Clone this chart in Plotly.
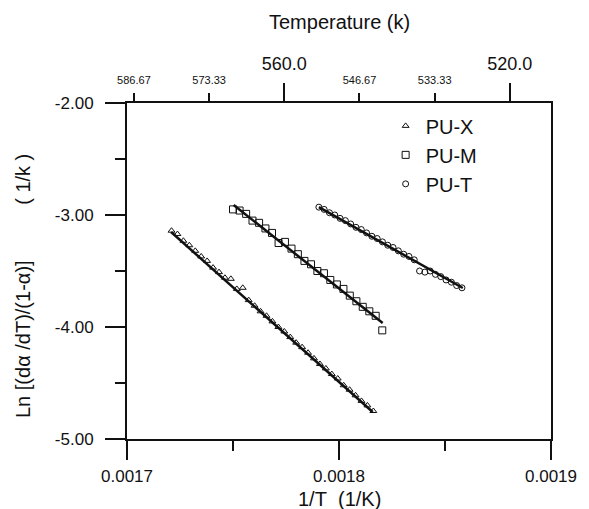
import plotly.graph_objects as go

# --- Kinetic data: Ln[(dα/dT)/(1-α)] versus 1/T for three PU samples ---
pux_x = [0.0017210, 0.0017238, 0.0017266, 0.0017294, 0.0017322, 0.0017350, 0.0017378,
         0.0017406, 0.0017434, 0.0017462, 0.0017490, 0.0017518, 0.0017546, 0.0017574,
         0.0017602, 0.0017630, 0.0017658, 0.0017686, 0.0017714, 0.0017742, 0.0017770,
         0.0017798, 0.0017826, 0.0017854, 0.0017882, 0.0017910, 0.0017938, 0.0017966,
         0.0017994, 0.0018022, 0.0018050, 0.0018078, 0.0018106, 0.0018134, 0.0018162]
pux_y = [-3.14, -3.17, -3.23, -3.27, -3.32, -3.37, -3.41, -3.47, -3.51, -3.56,
         -3.57, -3.66, -3.65, -3.76, -3.81, -3.86, -3.90, -3.95, -4.00, -4.04,
         -4.09, -4.14, -4.18, -4.23, -4.28, -4.33, -4.37, -4.42, -4.46, -4.52,
         -4.56, -4.61, -4.66, -4.70, -4.75]

pum_x = [0.0017500, 0.0017531, 0.0017562, 0.0017592, 0.0017623, 0.0017653, 0.0017684,
         0.0017715, 0.0017745, 0.0017776, 0.0017806, 0.0017837, 0.0017868, 0.0017898,
         0.0017929, 0.0017959, 0.0017990, 0.0018021, 0.0018051, 0.0018082, 0.0018112,
         0.0018143, 0.0018173, 0.0018204]
pum_y = [-2.95, -2.96, -2.99, -3.05, -3.07, -3.12, -3.16, -3.25, -3.24, -3.30,
         -3.35, -3.41, -3.44, -3.50, -3.52, -3.58, -3.62, -3.66, -3.72, -3.77,
         -3.82, -3.86, -3.90, -4.03]

put_x = [0.0017905, 0.0017930, 0.0017955, 0.0017980, 0.0018005, 0.0018030, 0.0018055,
         0.0018080, 0.0018105, 0.0018130, 0.0018155, 0.0018180, 0.0018205, 0.0018230,
         0.0018255, 0.0018280, 0.0018305, 0.0018330, 0.0018355, 0.0018380, 0.0018405,
         0.0018430, 0.0018455, 0.0018480, 0.0018505, 0.0018530, 0.0018555, 0.0018580]
put_y = [-2.93, -2.95, -2.98, -3.00, -3.03, -3.05, -3.08, -3.11, -3.13, -3.16,
         -3.19, -3.21, -3.24, -3.27, -3.29, -3.32, -3.35, -3.37, -3.40, -3.50,
         -3.51, -3.50, -3.53, -3.55, -3.58, -3.60, -3.63, -3.65]

# Linear fit lines (end points)
fitx_x = [0.0017208, 0.0018159]
fitx_y = [-3.152, -4.759]
fitm_x = [0.0017503, 0.0018206]
fitm_y = [-2.911, -3.964]
fitt_x = [0.0017905, 0.0018584]
fitt_y = [-2.929, -3.652]

# Axis ticks
x_major = [0.0017, 0.0018, 0.0019]
x_major_text = ["0.0017", "0.0018", "0.0019"]
x_minor = [0.00175, 0.00185]
y_major = [-2.0, -3.0, -4.0, -5.0]
y_major_text = ["-2.00", "-3.00", "-4.00", "-5.00"]
y_minor = [-2.5, -3.5, -4.5]
t_major = [560.0, 520.0]
t_major_text = ["560.0", "520.0"]
t_minor = [586.67, 573.33, 546.67, 533.33]
t_minor_text = ["586.67", "573.33", "546.67", "533.33"]
t_range = [587.9, 512.7]

FONT = "Arial, Liberation Sans, sans-serif"
BLACK = "#111111"
NBSP = "\u00a0"

fig = go.Figure()

series = [
    ("PU-X", pux_x, pux_y, "triangle-up-open", 6),
    ("PU-M", pum_x, pum_y, "square-open", 7),
    ("PU-T", put_x, put_y, "circle-open", 6),
]
for name, xs, ys, sym, sz in series:
    fig.add_trace(go.Scatter(
        x=xs, y=ys, mode="markers", name=name, legendgroup=name,
        marker=dict(symbol=sym, size=sz, color=BLACK, line=dict(color=BLACK, width=1)),
    ))

for xs, ys in [(fitx_x, fitx_y), (fitm_x, fitm_y), (fitt_x, fitt_y)]:
    fig.add_trace(go.Scatter(
        x=xs, y=ys, mode="lines", showlegend=False,
        line=dict(color=BLACK, width=2.5),
    ))

# invisible traces to activate the top temperature axes
fig.add_trace(go.Scatter(x=t_range, y=[None, None], xaxis="x2", showlegend=False,
                         mode="markers", hoverinfo="skip"))
fig.add_trace(go.Scatter(x=t_range, y=[None, None], xaxis="x3", showlegend=False,
                         mode="markers", hoverinfo="skip"))

fig.update_layout(
    width=589, height=509,
    margin=dict(l=127, r=30, t=103, b=70),
    paper_bgcolor="white", plot_bgcolor="white",
    font=dict(family=FONT, color=BLACK),
    showlegend=True,
    legend=dict(
        x=0.61, y=0.99, xanchor="left", yanchor="top",
        bgcolor="rgba(0,0,0,0)", font=dict(size=20, family=FONT, color=BLACK),
        tracegroupgap=0, itemwidth=30,
    ),
    xaxis=dict(
        range=[0.0017, 0.0019], tickmode="array", tickvals=x_major,
        ticktext=x_major_text,
        ticks="outside", ticklen=19, tickwidth=2, tickcolor=BLACK,
        ticklabelstandoff=2,
        minor=dict(tickmode="array", tickvals=x_minor, ticks="outside",
                   ticklen=10, tickwidth=2, tickcolor=BLACK),
        showline=True, linewidth=2, linecolor=BLACK, mirror=True,
        showgrid=False, zeroline=False,
        tickfont=dict(size=17, family=FONT, color=BLACK),
    ),
    xaxis2=dict(
        overlaying="x", side="top", range=t_range, tickmode="array",
        tickvals=t_major, ticktext=t_major_text,
        ticks="outside", ticklen=19, tickwidth=2, tickcolor=BLACK,
        ticklabelstandoff=6,
        showline=False, showgrid=False, zeroline=False,
        tickfont=dict(size=18, family=FONT, color=BLACK),
    ),
    xaxis3=dict(
        overlaying="x", side="top", range=t_range, tickmode="array",
        tickvals=t_minor, ticktext=t_minor_text,
        ticks="outside", ticklen=9, tickwidth=2, tickcolor=BLACK,
        ticklabelstandoff=5,
        showline=False, showgrid=False, zeroline=False,
        tickfont=dict(size=11, family=FONT, color=BLACK),
    ),
    yaxis=dict(
        range=[-5, -2], tickmode="array", tickvals=y_major, ticktext=y_major_text,
        ticks="outside", ticklen=20, tickwidth=2, tickcolor=BLACK,
        ticklabelstandoff=8,
        minor=dict(tickmode="array", tickvals=y_minor, ticks="outside",
                   ticklen=10, tickwidth=2, tickcolor=BLACK),
        showline=True, linewidth=2, linecolor=BLACK, mirror=True,
        showgrid=False, zeroline=False,
        tickfont=dict(size=17, family=FONT, color=BLACK),
    ),
    annotations=[
        dict(text="Temperature (k)", xref="paper", yref="paper", x=0.5, y=1.0,
             xanchor="center", yanchor="middle", yshift=81, showarrow=False,
             font=dict(size=20, family=FONT, color=BLACK)),
        dict(text="1/T" + NBSP * 2 + "(1/K)", xref="paper", yref="paper", x=0.5, y=0.0,
             xanchor="center", yanchor="middle", yshift=-60, showarrow=False,
             font=dict(size=20, family=FONT, color=BLACK)),
        dict(text="Ln [(dα /dT)/(1-α)]" + NBSP * 10 + "(" + NBSP + "1/k" + NBSP + ")",
             xref="paper", yref="paper", x=0.0, xshift=-104, y=0.5, yshift=-15,
             xanchor="center", yanchor="middle", textangle=-90, showarrow=False,
             font=dict(size=20, family=FONT, color=BLACK)),
    ],
)

fig.write_html("out.html")
